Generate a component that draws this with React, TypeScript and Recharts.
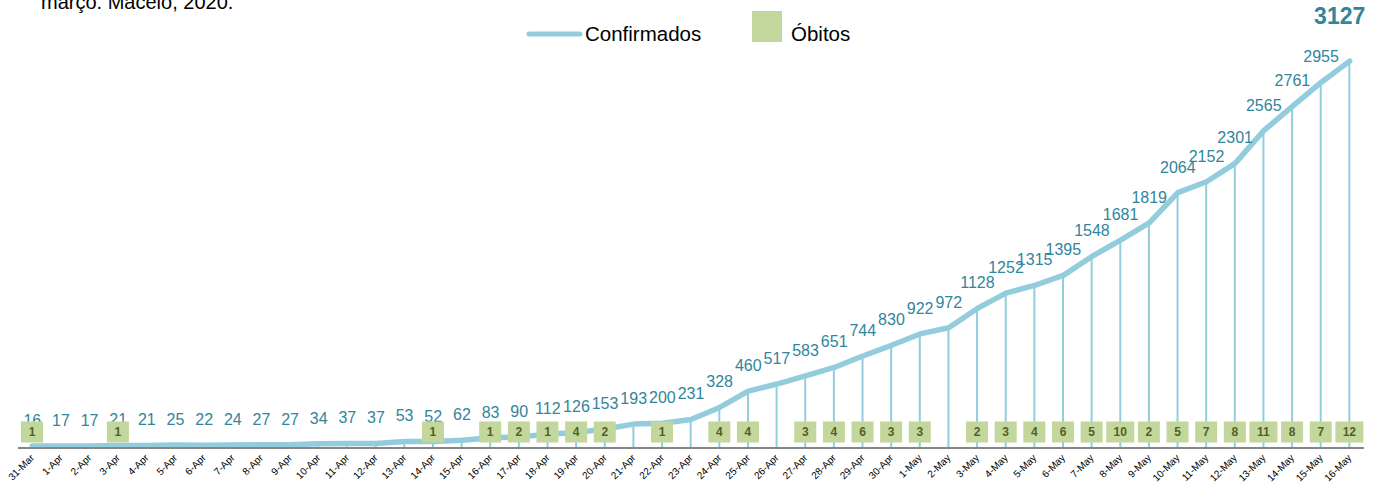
import { ComposedChart, Line, Bar, XAxis, YAxis, LabelList, Legend } from "recharts";

const dias = [
  "31-Mar", "1-Apr", "2-Apr", "3-Apr", "4-Apr", "5-Apr", "6-Apr", "7-Apr", "8-Apr", "9-Apr",
  "10-Apr", "11-Apr", "12-Apr", "13-Apr", "14-Apr", "15-Apr", "16-Apr", "17-Apr", "18-Apr", "19-Apr",
  "20-Apr", "21-Apr", "22-Apr", "23-Apr", "24-Apr", "25-Apr", "26-Apr", "27-Apr", "28-Apr", "29-Apr",
  "30-Apr", "1-May", "2-May", "3-May", "4-May", "5-May", "6-May", "7-May", "8-May", "9-May",
  "10-May", "11-May", "12-May", "13-May", "14-May", "15-May", "16-May",
];

const confirmados = [
  16, 17, 17, 21, 21, 25, 22, 24, 27, 27,
  34, 37, 37, 53, 52, 62, 83, 90, 112, 126,
  153, 193, 200, 231, 328, 460, 517, 583, 651, 744,
  830, 922, 972, 1128, 1252, 1315, 1395, 1548, 1681, 1819,
  2064, 2152, 2301, 2565, 2761, 2955, 3127,
];

const obitos: (number | null)[] = [
  1, null, null, 1, null, null, null, null, null, null,
  null, null, null, null, 1, null, 1, 2, 1, 4,
  2, null, 1, null, 4, 4, null, 3, 4, 6,
  3, 3, null, 2, 3, 4, 6, 5, 10, 2,
  5, 7, 8, 11, 8, 7, 12,
];

const yTicks = [0, 3500];

const LINE_COLOR = "#93CDDD";
const LABEL_COLOR = "#31859C";
const BOX_COLOR = "#C3D69B";
const BOX_TEXT = "#4F6228";
const FONT = "'Liberation Sans', Arial, sans-serif";

const data = dias.map((dia, i) => ({
  dia,
  confirmados: confirmados[i],
  obitos: obitos[i],
}));

const ultimo = confirmados[confirmados.length - 1];

function ValorLabel(props: any) {
  const vb = props.viewBox || {};
  const x = vb.x ?? props.x;
  const y = vb.y ?? props.y;
  if (x == null || y == null) return null;
  // the last value sits apart, big and bold, top right
  if (props.value === ultimo) {
    return (
      <text x={x - 10} y={y - 37} textAnchor="middle" fill={LABEL_COLOR} fontSize={23} fontWeight="bold" fontFamily={FONT}>
        {props.value}
      </text>
    );
  }
  return (
    <text x={x} y={y - 20} textAnchor="middle" fill={LABEL_COLOR} fontSize={16} fontFamily={FONT}>
      {props.value}
    </text>
  );
}

function ObitoBox(props: any) {
  const { value } = props;
  if (value == null) return null;
  const vb = props.viewBox || {};
  const x = (vb.x ?? props.x) + (vb.width ?? props.width ?? 0) / 2;
  const base = (vb.y ?? props.y) + (vb.height ?? props.height ?? 0);
  const w = String(value).length > 1 ? 28 : 22;
  const h = 21;
  const cy = base - 16;
  return (
    <g>
      <rect x={x - w / 2} y={cy - h / 2} width={w} height={h} fill={BOX_COLOR} />
      <text x={x} y={cy + 4} textAnchor="middle" fill={BOX_TEXT} fontSize={12} fontWeight="bold" fontFamily={FONT}>
        {value}
      </text>
    </g>
  );
}

function DiaTick(props: any) {
  const { x, y, payload } = props;
  return (
    <text
      x={x}
      y={y}
      transform={`rotate(-45, ${x}, ${y})`}
      textAnchor="end"
      dy="0.35em"
      fill="#000"
      fontSize={10}
      fontFamily={FONT}
    >
      {payload.value}
    </text>
  );
}

function Legenda() {
  return (
    <svg width={380} height={50} style={{ display: "block" }}>
      <line x1={29} y1={34} x2={80} y2={34} stroke={LINE_COLOR} strokeWidth={5} strokeLinecap="round" />
      <text x={85} y={41} fontSize={20.5} fontFamily={FONT} fill="#000">Confirmados</text>
      <rect x={252} y={11} width={30} height={31} fill={BOX_COLOR} />
      <text x={291} y={41} fontSize={20.5} fontFamily={FONT} fill="#000">Óbitos</text>
    </svg>
  );
}

export default function App() {
  return (
    <div style={{ position: "absolute", left: 0, top: 0, width: 1380, height: 487, overflow: "hidden", background: "#fff" }}>
      <div
        style={{
          position: "absolute",
          left: 41,
          top: -9,
          fontSize: 20,
          fontFamily: FONT,
          color: "#000",
          whiteSpace: "nowrap",
          lineHeight: "23px",
        }}
      >
        março. Maceió, 2020.
      </div>
      <ComposedChart
        width={1380}
        height={487}
        data={data}
        margin={{ top: 15, right: 16, left: 18, bottom: 0 }}
      >
        <XAxis
          dataKey="dia"
          interval={0}
          tickLine={false}
          axisLine={{ stroke: "#868686", strokeWidth: 2 }}
          height={39}
          tick={<DiaTick />}
        />
        <YAxis hide domain={[yTicks[0], yTicks[1]]} ticks={yTicks} />
        <Legend
          layout="horizontal"
          verticalAlign="middle"
          align="center"
          wrapperStyle={{ top: 0, left: 500, width: 380, height: 50 }}
          content={() => <Legenda />}
        />
        <Line
          type="linear"
          dataKey="confirmados"
          name="Confirmados"
          stroke={LINE_COLOR}
          strokeWidth={5.5}
          strokeLinecap="round"
          strokeLinejoin="round"
          dot={false}
          activeDot={false}
          isAnimationActive={false}
        >
          <LabelList dataKey="confirmados" content={ValorLabel} />
        </Line>
        {/* thin bars = drop lines; deaths boxes ride on them as labels */}
        <Bar dataKey="confirmados" name="Óbitos" barSize={2} fill={LINE_COLOR} isAnimationActive={false}>
          <LabelList dataKey="obitos" content={ObitoBox} />
        </Bar>
      </ComposedChart>
    </div>
  );
}
